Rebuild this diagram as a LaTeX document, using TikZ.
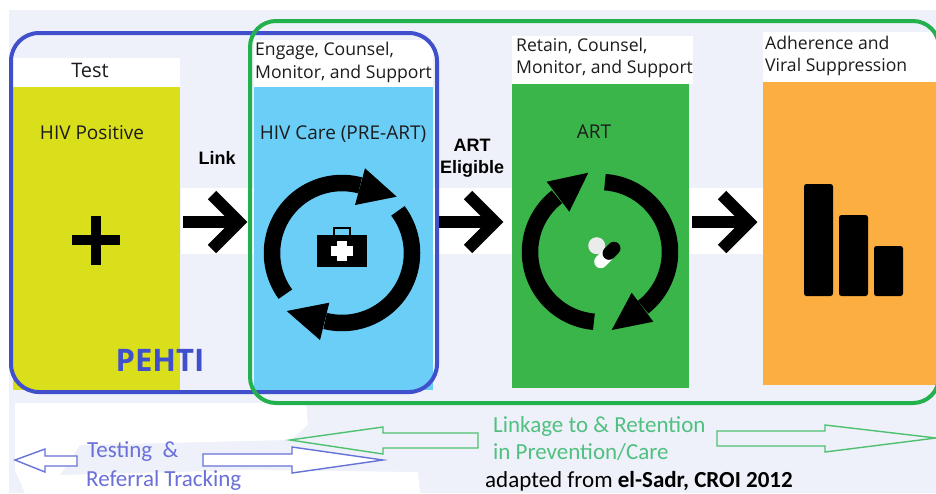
\documentclass[tikz,border=0pt]{standalone}
\usepackage{fontspec}
\setmainfont{Open Sans}
\newfontfamily\calib{Carlito}
\newfontfamily\arialf{Liberation Sans}
\definecolor{pale}{HTML}{EEF1F9}
\definecolor{yel}{HTML}{D9DF1A}
\definecolor{sky}{HTML}{6BCEF7}
\definecolor{grn}{HTML}{3AB54A}
\definecolor{org}{HTML}{FDAE40}
\definecolor{ringb}{HTML}{4050CC}
\definecolor{ringg}{HTML}{22B14C}
\definecolor{txtb}{HTML}{6A70D8}
\definecolor{txtg}{HTML}{50C080}
\definecolor{txtk}{HTML}{1C1C1C}
\tikzset{
  x=1pt,y=1pt,
  panel/.style={inner sep=0pt,outer sep=0pt,anchor=north west},
  lab/.style={inner sep=0pt,anchor=west,text=txtk,font=\fontsize{17.6}{20}\selectfont},
  cen/.style={inner sep=0pt,anchor=center,text=txtk,font=\fontsize{19}{22}\selectfont},
  boldlab/.style={inner sep=0pt,anchor=center,text=black,font=\arialf\bfseries\fontsize{18}{20}\selectfont},
  btm/.style={inner sep=0pt,anchor=west,font=\calib\fontsize{23}{26}\selectfont},
  ring/.style={line width=16.5pt,black},
  head/.style={fill=black,draw=none},
  chev/.style={line width=12pt,black,miter limit=10},
  frameb/.style={draw=ringb,line width=4pt,rounded corners=28pt},
  frameg/.style={draw=ringg,line width=4pt,rounded corners=26pt},
  outb/.style={draw=ringb!80!white,line width=1.4pt,fill=white,line join=miter},
  outg/.style={draw=ringg!80!white,line width=1.4pt,fill=pale,line join=miter},
}
\begin{document}
\begin{tikzpicture}
\useasboundingbox (0,0) rectangle (936,-493);
% background
\fill[white] (0,0) rectangle (936,-493);
\fill[pale] (9,-10) rectangle (936,-493);
\fill[white] (15,-403) -- (306,-403) -- (308,-425) -- (290,-440) -- (80,-445) -- (60,-475) -- (250,-470) -- (418,-472) -- (420,-493) -- (25,-493) -- (15,-470) -- cycle;
% white patches
\fill[white] (13,-58) rectangle (180,-87);
\fill[white] (254,-40) rectangle (433,-87);
\fill[white] (512,-36) rectangle (693,-84);
\fill[white] (763,-32) rectangle (936,-82);
\fill[white] (181,-188) rectangle (254,-254);
\fill[white] (433,-188) rectangle (512,-254);
\fill[white] (689,-188) rectangle (763,-254);
% panels
\node[panel,fill=yel,minimum width=167pt,minimum height=303pt] (test) at (13,-87) {};
\node[panel,fill=sky,minimum width=179pt,minimum height=303pt] (care) at (254,-87) {};
\node[panel,fill=grn,minimum width=177pt,minimum height=304pt] (art) at (512,-84) {};
\node[panel,fill=org,minimum width=173pt,minimum height=303pt] (supp) at (763,-82) {};
% frames
\draw[frameb] (11,-33) rectangle (437,-392);
\draw[frameg] (250,-21) -- (939,-21) -- (939,-403) -- (250,-403) -- cycle;
% labels
\node[cen,font=\fontsize{20}{22}\selectfont] (ltest) at (90,-70) {Test};
\node[cen] (lpos) at (92,-133) {HIV Positive};
\node[lab] (l1a) at (255,-51) {Engage, Counsel,};
\node[lab] (l1b) at (255,-74) {Monitor, and Support};
\node[cen] (lcare) at (343,-134) {HIV Care (PRE-ART)};
\node[lab] (l2a) at (516,-46) {Retain, Counsel,};
\node[lab] (l2b) at (516,-69) {Monitor, and Support};
\node[cen] (lart) at (594,-132) {ART};
\node[lab] (l3a) at (765,-43) {Adherence and};
\node[lab] (l3b) at (765,-67) {Viral Suppression};
\node[boldlab] (llink) at (217,-158) {Link};
\node[boldlab] (lel1) at (472,-145) {ART};
\node[boldlab] (lel2) at (472,-169) {Eligible};
\node[inner sep=0pt,text=ringb,font=\bfseries\fontsize{31}{34}\selectfont] (pehti) at (160,-360) {PEHTI};
% chevron connectors
\coordinate (a1s) at (183,-222); \coordinate (a1e) at (239,-222);
\coordinate (a2s) at (439,-222); \coordinate (a2e) at (495,-222);
\coordinate (a3s) at (692,-222); \coordinate (a3e) at (749,-222);
\foreach \s/\e in {a1s/a1e,a2s/a2e,a3s/a3e}{
  \draw[chev] (\s) -- (\e);
  \draw[chev] ([shift={(-27,27)}]\e) -- (\e) -- ([shift={(-27,-27)}]\e);
}
% plus
\fill[black] (72,-235) rectangle (120,-245);
\fill[black] (91,-216) rectangle (101,-265);
% care cycle
\coordinate (cc) at (342,-253);
\draw[ring] ([shift={(216:70)}]cc) arc[start angle=216,end angle=75,radius=70];
\fill[head] (365,-168.3) -- (355,-205) -- (396.7,-196.7) -- cycle;
\draw[ring] ([shift={(37:70)}]cc) arc[start angle=37,end angle=-104,radius=70];
\fill[head] (329.3,-302.7) -- (320,-340) -- (286.7,-311) -- cycle;
% kit
\fill[black] (316.7,-235) rectangle (366.7,-266.7);
\draw[black,line width=2pt] (334,-235) -- (334,-228) -- (350,-228) -- (350,-235);
\fill[white] (337,-241) rectangle (346.5,-261);
\fill[white] (331,-246) rectangle (353,-256);
% art cycle
\coordinate (ac) at (600,-252);
\draw[ring] ([shift={(86:70)}]ac) arc[start angle=86,end angle=-52,radius=70];
\fill[head] (631.7,-292.7) -- (653.3,-321.7) -- (611.7,-330) -- cycle;
\draw[ring] ([shift={(265:70)}]ac) arc[start angle=265,end angle=128,radius=70];
\fill[head] (546.7,-181.7) -- (569.3,-211.7) -- (588.3,-172.7) -- cycle;
% pills
\fill[white!92!black] (596.7,-245.7) circle[radius=8.5];
\draw[line width=13pt,line cap=round,white] (600.7,-261.7) -- (607.3,-255);
\draw[line width=13pt,line cap=round,black] (614,-248.3) -- (609,-253.3);
% bars
\fill[black,rounded corners=2.5pt] (804,-184) rectangle (833,-296);
\fill[black,rounded corners=2.5pt] (839,-215) rectangle (868,-296);
\fill[black,rounded corners=2.5pt] (874,-246) rectangle (903,-296);
% bottom arrows
\draw[outg] (290,-440) -- (383,-427) -- (383,-433) -- (478,-433) -- (478,-448) -- (383,-448) -- (383,-454) -- cycle;
\draw[outb] (15,-460) -- (45,-449) -- (45,-456) -- (77,-456) -- (77,-466) -- (45,-466) -- (45,-472) -- cycle;
\draw[outb] (383,-460) -- (292,-447) -- (292,-454) -- (203,-454) -- (203,-466) -- (292,-466) -- (292,-473) -- cycle;
\draw[outg] (936,-438) -- (825,-425) -- (825,-431) -- (717,-431) -- (717,-446) -- (825,-446) -- (825,-452) -- cycle;
% bottom text
\node[btm,text=txtb] (b1) at (87,-452) {Testing \ \&};
\node[btm,text=txtb] (b2) at (86,-480) {Referral Tracking};
\node[btm,text=txtg] (b3) at (493,-426) {Linkage to \& Retention};
\node[btm,text=txtg] (b4) at (493,-452) {in Prevention/Care};
\node[btm,text=black] (b5) at (485,-481) {adapted from \bfseries el-Sadr, CROI 2012};
\end{tikzpicture}
\end{document}
